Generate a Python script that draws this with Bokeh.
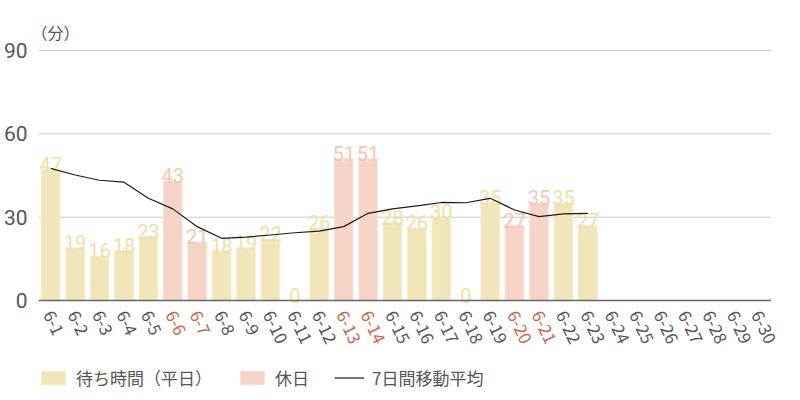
from bokeh.plotting import figure
from bokeh.models import ColumnDataSource, Range1d, FixedTicker, Legend, LegendItem
from bokeh.core.properties import value
from bokeh.embed import file_html
from bokeh.resources import INLINE

# ---- data ----
dates = ["6-1", "6-2", "6-3", "6-4", "6-5", "6-6", "6-7", "6-8", "6-9", "6-10",
         "6-11", "6-12", "6-13", "6-14", "6-15", "6-16", "6-17", "6-18", "6-19", "6-20",
         "6-21", "6-22", "6-23", "6-24", "6-25", "6-26", "6-27", "6-28", "6-29", "6-30"]
wait_minutes = [47, 19, 16, 18, 23, 43, 21, 18, 19, 22, 0, 26, 51, 51, 28, 26, 30, 0,
                35, 27, 35, 35, 27]
holidays = ["6-6", "6-7", "6-13", "6-14", "6-20", "6-21"]
moving_avg = [47.6, 45.2, 43.3, 42.6, 36.8, 33.0, 26.6, 22.4, 22.8, 23.6, 24.4, 25.0,
              26.6, 31.4, 33.0, 34.1, 35.3, 35.2, 36.8, 32.6, 30.2, 31.2, 31.4]
y_ticks = [0, 30, 60, 90]
grid_ticks = [30, 60, 90]
unit_label = "（分）"
legend_labels = ["待ち時間（平日）", "休日", "7日間移動平均"]

# ---- styles ----
YELLOW = "#f1e6b9"
YELLOW_EDGE = "#f5ecc9"
YELLOW_TXT = "#eedfa8"
PINK = "#f6d4c8"
PINK_EDGE = "#f9e0d7"
PINK_TXT = "#f2c6b4"
GRAY = "#555555"
RED = "#c8654c"
JP = "Noto Sans CJK JP"
NUM = "Roboto"

# category positions on the numeric x scale (1 = first day)
pos = {d: i + 1 for i, d in enumerate(dates)}
first, last = 1 - 0.5, len(dates) + 0.5

wk_x, wk_v, hd_x, hd_v = [], [], [], []
for d, v in zip(dates, wait_minutes):
    if d in holidays:
        hd_x.append(pos[d]); hd_v.append(v)
    else:
        wk_x.append(pos[d]); wk_v.append(v)

wk_src = ColumnDataSource(dict(x=wk_x, top=wk_v, label=[str(v) for v in wk_v]))
hd_src = ColumnDataSource(dict(x=hd_x, top=hd_v, label=[str(v) for v in hd_v]))
lab_src = ColumnDataSource(dict(x=[pos[d] for d in dates], text=dates,
                                color=[RED if d in holidays else GRAY for d in dates]))
ma_src = ColumnDataSource(dict(x=[pos[d] for d in dates[:len(moving_avg)]], y=moving_avg))

p = figure(x_range=Range1d(first, last + 0.8), y_range=Range1d(-33.1, 108.0),
           frame_width=752, frame_height=392,
           min_border_left=32, min_border_right=0, min_border_top=0, min_border_bottom=0,
           x_axis_location=None, output_backend="svg", toolbar_location=None)
p.outline_line_color = None
p.xgrid.visible = False
p.ygrid.visible = False

ax = p.yaxis[0]
ax.ticker = FixedTicker(ticks=y_ticks)
ax.axis_line_color = None
ax.major_tick_line_color = None
ax.minor_tick_line_color = None
ax.major_label_standoff = 5
ax.major_label_text_font_size = "21px"
ax.major_label_text_color = GRAY
ax.major_label_text_font = NUM

# horizontal grid lines spanning the category band only
p.segment(x0=first, x1=last, y0=grid_ticks, y1=grid_ticks, line_color="#cccccc", line_width=1)

bar_wk = p.vbar(x="x", top="top", width=0.76, source=wk_src,
                fill_color=YELLOW, line_color=YELLOW_EDGE, line_width=1)
bar_hd = p.vbar(x="x", top="top", width=0.76, source=hd_src,
                fill_color=PINK, line_color=PINK_EDGE, line_width=1)

p.text(x="x", y="top", text="label", source=wk_src, text_align="center",
       text_baseline="bottom", y_offset=2, text_color=YELLOW_TXT,
       text_font=value(NUM), text_font_size="20px")
p.text(x="x", y="top", text="label", source=hd_src, text_align="center",
       text_baseline="bottom", y_offset=2, text_color=PINK_TXT,
       text_font=value(NUM), text_font_size="20px")

ma_line = p.line(x="x", y="y", source=ma_src, line_color="#1a1a1a", line_width=1.2)

# x axis base line at 0
p.segment(x0=first, x1=last, y0=[0], y1=[0], line_color="#666666", line_width=1.5)

# x tick labels (coloured per day type)
p.text(x="x", y=-4.0, text="text", source=lab_src, angle=-1.13, x_offset=-2,
       text_align="left", text_baseline="middle", text_color="color",
       text_font=value(JP), text_font_size="17px")

# unit label
p.text(x=[first], y=[96.5], text=[unit_label], x_offset=-7, text_align="left",
       text_baseline="middle", text_color=GRAY, text_font=value(JP), text_font_size="16px")

legend = Legend(items=[LegendItem(label=legend_labels[0], renderers=[bar_wk]),
                       LegendItem(label=legend_labels[1], renderers=[bar_hd]),
                       LegendItem(label=legend_labels[2], renderers=[ma_line])],
                location=(0, 2), orientation="horizontal", border_line_color=None,
                background_fill_alpha=0, padding=0, margin=0, spacing=25,
                glyph_width=30, glyph_height=17, label_standoff=8,
                label_text_font_size="17px", label_text_font=JP, label_text_color=GRAY)
p.add_layout(legend)

open("out.html", "w").write(file_html(p, INLINE))
